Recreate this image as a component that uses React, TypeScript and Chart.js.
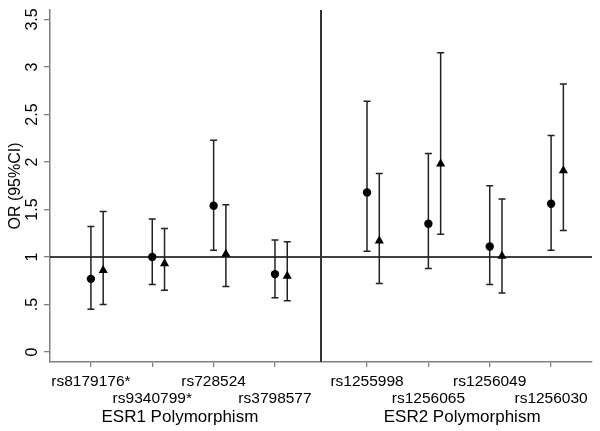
import React, { useEffect, useRef } from "react";
import { Chart, registerables } from "chart.js";
Chart.register(...registerables);

const FONT = "'Liberation Sans', Arial, Helvetica, sans-serif";

// categories
const snpLabels = ["rs8179176*", "rs9340799*", "rs728524", "rs3798577", "rs1255998", "rs1256065", "rs1256049", "rs1256030"];
const snpPositions = [1, 2, 3, 4, 5.5, 6.5, 7.5, 8.5];

// circle series (OR and 95% CI)
const circleOR = [0.77, 1.0, 1.54, 0.82, 1.68, 1.35, 1.11, 1.56];
const circleLo = [0.45, 0.71, 1.07, 0.57, 1.06, 0.88, 0.71, 1.07];
const circleHi = [1.32, 1.40, 2.23, 1.18, 2.64, 2.09, 1.75, 2.28];

// triangle series (OR and 95% CI)
const triOR = [0.86, 0.93, 1.03, 0.80, 1.17, 1.98, 1.01, 1.91];
const triLo = [0.50, 0.65, 0.69, 0.54, 0.72, 1.24, 0.62, 1.28];
const triHi = [1.48, 1.30, 1.55, 1.16, 1.88, 3.15, 1.61, 2.82];

// axis ticks and annotations
const yTicks = [0, 0.5, 1, 1.5, 2, 2.5, 3, 3.5];
const groupTitles = ["ESR1 Polymorphism", "ESR2 Polymorphism"];
const groupTitlePos = [2.45, 7.05];
const refLineY = 1;
const separatorX = 4.75;
const TRI_OFFSET = 0.2;

const fmtY = (v: number) => (v === 0 ? "0" : String(v).replace(/^0\./, "."));

const overlayPlugin = {
  id: "overlay",
  beforeDatasetsDraw(chart: any) {
    const { ctx, chartArea, scales } = chart;
    const x = scales.x;
    const y = scales.y;
    ctx.save();
    // reference line at OR = 1
    const yr = y.getPixelForValue(refLineY);
    ctx.strokeStyle = "#000";
    ctx.lineWidth = 1.6;
    ctx.beginPath();
    ctx.moveTo(chartArea.left, yr);
    ctx.lineTo(chartArea.right, yr);
    ctx.stroke();
    // separator
    const xs = x.getPixelForValue(separatorX);
    ctx.strokeStyle = "#333";
    ctx.lineWidth = 2;
    ctx.beginPath();
    ctx.moveTo(xs, chartArea.top);
    ctx.lineTo(xs, chartArea.bottom);
    ctx.stroke();
    // error bars
    ctx.strokeStyle = "#222";
    ctx.lineWidth = 1.5;
    chart.data.datasets.forEach((ds: any) => {
      ds.data.forEach((pt: any, i: number) => {
        const px = x.getPixelForValue(pt.x);
        const lo = y.getPixelForValue(ds.errLo[i]);
        const hi = y.getPixelForValue(ds.errHi[i]);
        ctx.beginPath();
        ctx.moveTo(px, lo);
        ctx.lineTo(px, hi);
        ctx.moveTo(px - 3.5, lo);
        ctx.lineTo(px + 3.5, lo);
        ctx.moveTo(px - 3.5, hi);
        ctx.lineTo(px + 3.5, hi);
        ctx.stroke();
      });
    });
    ctx.restore();
  },
  afterDraw(chart: any) {
    const { ctx, scales } = chart;
    const x = scales.x;
    ctx.save();
    ctx.fillStyle = "#000";
    ctx.font = `17px ${FONT}`;
    ctx.textAlign = "center";
    ctx.textBaseline = "middle";
    groupTitles.forEach((t, i) => {
      ctx.fillText(t, x.getPixelForValue(groupTitlePos[i]), 417);
    });
    ctx.restore();
  },
};

export default function App() {
  const ref = useRef<HTMLCanvasElement>(null);
  useEffect(() => {
    const borderOpts = { display: true, color: "#808080", width: 1.5 };
    const chart = new Chart(ref.current as HTMLCanvasElement, {
      type: "scatter",
      data: {
        datasets: [
          {
            label: "circle",
            data: snpPositions.map((p, i) => ({ x: p, y: circleOR[i] })),
            errLo: circleLo,
            errHi: circleHi,
            pointStyle: "circle",
            pointRadius: 4.2,
            backgroundColor: "#000",
            borderColor: "#000",
            borderWidth: 0,
          } as any,
          {
            label: "triangle",
            data: snpPositions.map((p, i) => ({ x: p + TRI_OFFSET, y: triOR[i] })),
            errLo: triLo,
            errHi: triHi,
            pointStyle: "triangle",
            pointRadius: 5.3,
            backgroundColor: "#000",
            borderColor: "#000",
            borderWidth: 0,
          } as any,
        ],
      },
      options: {
        responsive: false,
        animation: false,
        layout: { padding: { top: 10, right: 8, left: 0, bottom: 0 } },
        plugins: { legend: { display: false }, tooltip: { enabled: false } },
        scales: {
          x: {
            type: "linear",
            min: 1 / 3,
            max: 9 + 1 / 6,
            afterBuildTicks: (s: any) => {
              s.ticks = snpPositions.map((v) => ({ value: v }));
            },
            afterFit: (s: any) => {
              s.height = 69;
            },
            grid: { drawOnChartArea: false, drawTicks: true, tickLength: 5, color: "#808080", lineWidth: 1.3 },
            border: borderOpts,
            ticks: {
              autoSkip: false,
              minRotation: 0,
              maxRotation: 0,
              padding: 7,
              color: "#000",
              font: { family: FONT, size: 15.5, lineHeight: 1.05 },
              callback: (_v: any, i: number) => (i % 2 === 0 ? [snpLabels[i]] : ["", snpLabels[i]]),
            },
          },
          y: {
            type: "linear",
            min: -0.105,
            max: 3.6,
            afterBuildTicks: (s: any) => {
              s.ticks = yTicks.map((v) => ({ value: v }));
            },
            afterFit: (s: any) => {
              s.width = 50;
            },
            grid: { drawOnChartArea: false, drawTicks: true, tickLength: 6, color: "#808080", lineWidth: 1.3 },
            border: borderOpts,
            ticks: {
              autoSkip: false,
              minRotation: 90,
              maxRotation: 90,
              crossAlign: "center",
              padding: 0,
              color: "#000",
              font: { family: FONT, size: 16 },
              callback: (v: any) => fmtY(Number(v)),
            },
            title: {
              display: true,
              text: "OR (95%CI)",
              color: "#000",
              font: { family: FONT, size: 16, lineHeight: 1.15 },
              padding: { top: 6, bottom: 0 },
            },
          },
        },
      } as any,
      plugins: [overlayPlugin],
    });
    return () => chart.destroy();
  }, []);
  return (
    <div style={{ position: "fixed", left: 0, top: 0, width: 600, height: 431, background: "#fff" }}>
      <canvas ref={ref} width={600} height={431} style={{ display: "block" }} />
    </div>
  );
}
